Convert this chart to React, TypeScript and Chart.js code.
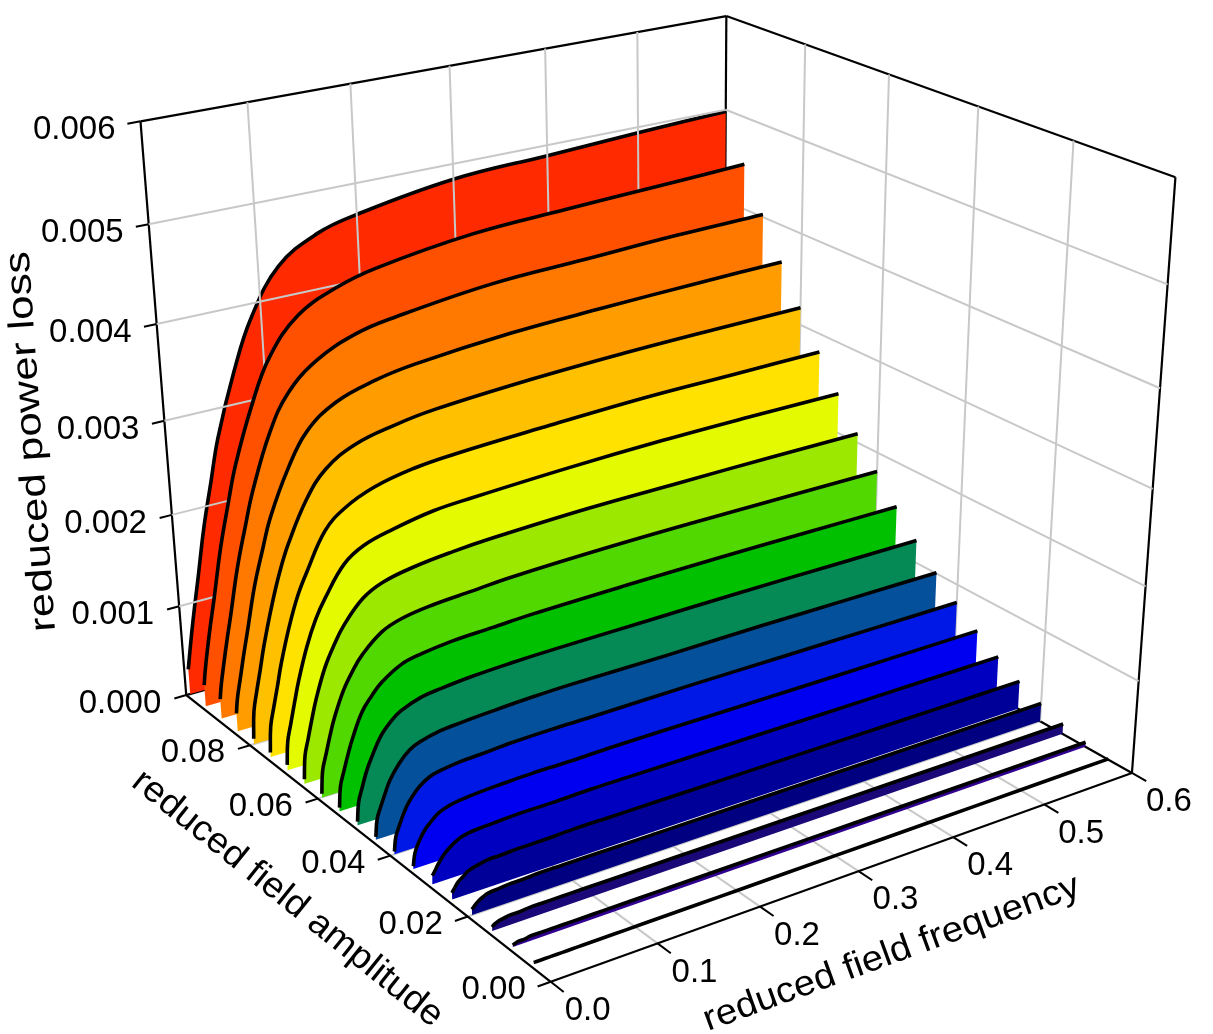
import React, { useEffect, useRef } from "react";
import { Chart, registerables } from "chart.js";

Chart.register(...registerables);

const frequencies = [0.004, 0.006, 0.01, 0.015, 0.02, 0.03, 0.04, 0.05, 0.07, 0.09, 0.12, 0.16, 0.2, 0.3, 0.4, 0.5, 0.6];
const amplitudes = [0.1, 0.095, 0.09, 0.085, 0.08, 0.075, 0.07, 0.065, 0.06, 0.055, 0.05, 0.045, 0.04, 0.035, 0.03, 0.025, 0.02, 0.015, 0.01, 0.005];

const loss100 = [0.00028, 0.00041, 0.00066, 0.00095, 0.00122, 0.00178, 0.00224, 0.00269, 0.00334, 0.00385, 0.00432, 0.00457, 0.00468, 0.00484, 0.00489, 0.00494, 0.00498];
const loss095 = [0.00024, 0.00039, 0.00063, 0.0009, 0.00115, 0.00168, 0.00211, 0.00251, 0.0031, 0.00355, 0.00391, 0.00411, 0.00422, 0.00436, 0.00441, 0.00445, 0.00449];
const loss090 = [0.00022, 0.00037, 0.00059, 0.00085, 0.00109, 0.00159, 0.00199, 0.00236, 0.00292, 0.00328, 0.00355, 0.00373, 0.00381, 0.00393, 0.00397, 0.00401, 0.00403];
const loss085 = [0.0002, 0.00036, 0.00056, 0.00081, 0.00104, 0.00151, 0.00187, 0.0022, 0.00266, 0.00299, 0.00322, 0.00335, 0.00342, 0.00351, 0.00355, 0.00358, 0.0036];
const loss080 = [0.00006, 0.00035, 0.00056, 0.00079, 0.00103, 0.00143, 0.00177, 0.00204, 0.00245, 0.00271, 0.00289, 0.00299, 0.00305, 0.00312, 0.00316, 0.00318, 0.00319];
const loss075 = [0.00005, 0.00033, 0.00052, 0.00074, 0.00097, 0.00134, 0.00164, 0.00186, 0.00224, 0.00242, 0.00256, 0.00265, 0.00269, 0.00274, 0.00278, 0.00279, 0.0028];
const loss070 = [0.00006, 0.00031, 0.00049, 0.00071, 0.00092, 0.00126, 0.00152, 0.00171, 0.00201, 0.00215, 0.00224, 0.00232, 0.00235, 0.0024, 0.00243, 0.00244, 0.00244];
const loss065 = [0.00005, 0.0003, 0.00047, 0.00068, 0.00087, 0.00117, 0.00138, 0.00155, 0.00178, 0.00189, 0.00196, 0.00201, 0.00204, 0.00208, 0.00209, 0.0021, 0.0021];
const loss060 = [0.00004, 0.00028, 0.00044, 0.00063, 0.0008, 0.00106, 0.00124, 0.00138, 0.00156, 0.00164, 0.00169, 0.00172, 0.00175, 0.00178, 0.00179, 0.00179, 0.00179];
const loss055 = [0.00004, 0.00026, 0.00041, 0.00058, 0.00073, 0.00097, 0.00111, 0.00122, 0.00135, 0.0014, 0.00144, 0.00146, 0.00148, 0.0015, 0.00151, 0.00151, 0.00151];
const loss050 = [0.00004, 0.00024, 0.00038, 0.00054, 0.00066, 0.00086, 0.00098, 0.00106, 0.00114, 0.00117, 0.0012, 0.00122, 0.00123, 0.00124, 0.00125, 0.00125, 0.00125];
const loss045 = [0.00003, 0.00021, 0.00033, 0.00046, 0.00058, 0.00073, 0.00083, 0.00088, 0.00093, 0.00095, 0.00097, 0.00099, 0.001, 0.001, 0.00101, 0.00101, 0.00101];
const loss040 = [0.00003, 0.00018, 0.00029, 0.00041, 0.0005, 0.00062, 0.00069, 0.00072, 0.00075, 0.00076, 0.00078, 0.00079, 0.00079, 0.0008, 0.0008, 0.0008, 0.0008];
const loss035 = [0.00003, 0.00016, 0.00026, 0.00035, 0.00041, 0.0005, 0.00054, 0.00056, 0.00058, 0.00059, 0.0006, 0.0006, 0.00061, 0.00061, 0.00061, 0.00061, 0.00061];
const loss030 = [0.00009, 0.00012, 0.00019, 0.00026, 0.00031, 0.00038, 0.00041, 0.00042, 0.00043, 0.00044, 0.00044, 0.00045, 0.00045, 0.00045, 0.00045, 0.00045, 0.00045];
const loss025 = [0.00007, 0.0001, 0.00016, 0.0002, 0.00024, 0.00027, 0.00029, 0.00029, 0.0003, 0.0003, 0.00031, 0.00031, 0.00031, 0.00031, 0.00031, 0.00031, 0.00031];
const loss020 = [0.00006, 0.00008, 0.00012, 0.00015, 0.00017, 0.00018, 0.00019, 0.00019, 0.0002, 0.0002, 0.0002, 0.0002, 0.0002, 0.0002, 0.0002, 0.0002, 0.0002];
const loss015 = [0.00004, 0.00006, 0.00008, 0.00009, 0.0001, 0.0001, 0.00011, 0.00011, 0.00011, 0.00011, 0.00011, 0.00011, 0.00011, 0.00011, 0.00011, 0.00011, 0.00011];
const loss010 = [0.00002, 0.00003, 0.00004, 0.00004, 0.00005, 0.00005, 0.00005, 0.00005, 0.00005, 0.00005, 0.00005, 0.00005, 0.00005, 0.00005, 0.00005, 0.00005, 0.00005];
const loss005 = [0.00001, 0.00001, 0.00001, 0.00001, 0.00001, 0.00001, 0.00001, 0.00001, 0.00001, 0.00001, 0.00001, 0.00001, 0.00001, 0.00001, 0.00001, 0.00001, 0.00001];

const lossSeries = [loss100, loss095, loss090, loss085, loss080, loss075, loss070, loss065, loss060, loss055, loss050, loss045, loss040, loss035, loss030, loss025, loss020, loss015, loss010, loss005];
const ribbonColors = ["#ff2a00", "#ff5000", "#ff7800", "#ff9c00", "#ffc000", "#ffe200", "#e4fa00", "#9ce800", "#50d800", "#00c000", "#058a55", "#05509a", "#0018e6", "#0000f0", "#0000c0", "#000098", "#000080", "#1a0878", "#300090", "#300090"];

const lossTicks = ["0.000", "0.001", "0.002", "0.003", "0.004", "0.005", "0.006"];
const amplitudeTicks = ["0.00", "0.02", "0.04", "0.06", "0.08"];
const frequencyTicks = ["0.0", "0.1", "0.2", "0.3", "0.4", "0.5", "0.6"];

const FREQ_MAX = 0.6;
const AMP_MAX = 0.1;
const LOSS_MAX = 0.006;

// Camera: box corners (frequency, amplitude, loss as fractions of each axis) and where they appear on the page.
const cameraMarks: number[][] = [
  [0, 0, 0, 551, 983],
  [1, 0, 0, 1130, 771],
  [0, 1, 0, 185, 693],
  [1, 1, 0, 725, 545],
  [0, 1, 1, 141, 123],
  [1, 1, 1, 725, 15],
  [1, 0, 1, 1177, 178],
  [0.5, 0, 0, 860, 872],
  [0, 0.6, 0, 317, 798],
  [0, 1, 0.5, 165, 421],
  [0.5, 1, 1, 450, 65],
  [1, 0.4, 1, 977, 106],
];

function solveCamera(): number[] {
  const n = 11;
  const A: number[][] = Array.from({ length: n }, () => new Array(n + 1).fill(0));
  const add = (row: number[], rhs: number) => {
    for (let i = 0; i < n; i++) {
      for (let j = 0; j < n; j++) A[i][j] += row[i] * row[j];
      A[i][n] += row[i] * rhs;
    }
  };
  for (const [X, Y, Z, px, py] of cameraMarks) {
    const x = px / 1000;
    const y = py / 1000;
    add([X, Y, Z, 1, 0, 0, 0, 0, -x * X, -x * Y, -x * Z], x);
    add([0, 0, 0, 0, X, Y, Z, 1, -y * X, -y * Y, -y * Z], y);
  }
  for (let c = 0; c < n; c++) {
    let best = c;
    for (let r = c + 1; r < n; r++) if (Math.abs(A[r][c]) > Math.abs(A[best][c])) best = r;
    [A[c], A[best]] = [A[best], A[c]];
    for (let r = 0; r < n; r++) {
      if (r === c) continue;
      const k = A[r][c] / A[c][c];
      for (let j = c; j <= n; j++) A[r][j] -= k * A[c][j];
    }
  }
  return A.map((row, i) => row[n] / row[i]);
}

const cam = solveCamera();

function project(freq: number, amp: number, loss: number) {
  const X = freq / FREQ_MAX;
  const Y = amp / AMP_MAX;
  const Z = loss / LOSS_MAX;
  const d = cam[8] * X + cam[9] * Y + cam[10] * Z + 1;
  return {
    x: (1000 * (cam[0] * X + cam[1] * Y + cam[2] * Z + cam[3])) / d,
    y: (1000 * (cam[4] * X + cam[5] * Y + cam[6] * Z + cam[7])) / d,
  };
}

type Pt = { x: number; y: number };

function seg(points: Pt[], color: string, width: number, extra: object = {}) {
  return { data: points, showLine: true, borderColor: color, borderWidth: width, backgroundColor: color, pointRadius: 0, fill: false, tension: 0, clip: false, ...extra };
}

const GRID = "#c8c8c8";
const BLACK = "#000000";

function ribbon(i: number) {
  const amp = amplitudes[i];
  const values = lossSeries[i];
  const curve = frequencies.map((f, j) => project(f, amp, values[j]));
  const polygon = [project(frequencies[0], amp, 0), ...curve, project(FREQ_MAX, amp, 0)];
  return [
    seg(polygon, ribbonColors[i], 0, { fill: "shape", backgroundColor: ribbonColors[i], borderWidth: 0 }),
    seg(curve, ribbonColors[i], 0, { fill: "shape", backgroundColor: ribbonColors[i], borderWidth: 0, tension: 0.4 }),
    seg(curve, BLACK, 3.6, { tension: 0.4, borderCapStyle: "butt" }),
  ];
}

function buildDatasets() {
  const paint: any[] = [];
  const fTicks = frequencyTicks.map(Number);
  const aTicks = [...amplitudeTicks.map(Number), AMP_MAX];
  const zTicks = lossTicks.map(Number);

  // floor grid
  fTicks.slice(1, -1).forEach((f) => paint.push(seg([project(f, 0, 0), project(f, AMP_MAX, 0)], GRID, 2)));
  aTicks.slice(1, -1).forEach((a) => paint.push(seg([project(0, a, 0), project(FREQ_MAX, a, 0)], GRID, 2)));

  // frame
  const corners = (f: number, a: number, z: number) => project(f, a, z);
  const frame: [number, number, number, number, number, number][] = [
    [0, 0, 0, FREQ_MAX, 0, 0],
    [0, 0, 0, 0, AMP_MAX, 0],
    [0, AMP_MAX, 0, FREQ_MAX, AMP_MAX, 0],
    [FREQ_MAX, 0, 0, FREQ_MAX, AMP_MAX, 0],
    [0, AMP_MAX, 0, 0, AMP_MAX, LOSS_MAX],
    [FREQ_MAX, AMP_MAX, 0, FREQ_MAX, AMP_MAX, LOSS_MAX],
    [FREQ_MAX, 0, 0, FREQ_MAX, 0, LOSS_MAX],
    [0, AMP_MAX, LOSS_MAX, FREQ_MAX, AMP_MAX, LOSS_MAX],
    [FREQ_MAX, 0, LOSS_MAX, FREQ_MAX, AMP_MAX, LOSS_MAX],
  ];
  frame.forEach((e) => paint.push(seg([corners(e[0], e[1], e[2]), corners(e[3], e[4], e[5])], BLACK, 2.2)));

  // ticks
  zTicks.forEach((z) => paint.push(seg([project(-0.012, AMP_MAX, z), project(0, AMP_MAX, z)], BLACK, 2)));
  amplitudeTicks.map(Number).forEach((a) => paint.push(seg([project(-0.012, a, 0), project(0, a, 0)], BLACK, 2)));
  fTicks.forEach((f) => paint.push(seg([project(f, -0.003, 0), project(f, 0, 0)], BLACK, 2)));

  // rear ribbon lies on the back wall, wall grid goes over it
  paint.push(...ribbon(0));

  // wall grid
  zTicks.slice(1, -1).forEach((z) => {
    paint.push(seg([project(0, AMP_MAX, z), project(FREQ_MAX, AMP_MAX, z)], GRID, 2));
    paint.push(seg([project(FREQ_MAX, AMP_MAX, z), project(FREQ_MAX, 0, z)], GRID, 2));
  });
  fTicks.slice(1, -1).forEach((f) => paint.push(seg([project(f, AMP_MAX, 0), project(f, AMP_MAX, LOSS_MAX)], GRID, 2)));
  aTicks.slice(1, -1).forEach((a) => paint.push(seg([project(FREQ_MAX, a, 0), project(FREQ_MAX, a, LOSS_MAX)], GRID, 2)));

  for (let i = 1; i < amplitudes.length; i++) paint.push(...ribbon(i));

  // Chart.js paints the first dataset last
  return paint.reverse();
}

const FONT = '"Liberation Sans", Arial, sans-serif';

function drawText(ctx: CanvasRenderingContext2D, text: string, x: number, y: number, size: number, align: CanvasTextAlign, baseline: CanvasTextBaseline, angle = 0, length = 0) {
  ctx.save();
  ctx.translate(x, y);
  ctx.rotate((angle * Math.PI) / 180);
  ctx.font = `${size}px ${FONT}`;
  ctx.fillStyle = "#000";
  ctx.textAlign = align;
  ctx.textBaseline = baseline;
  if (length > 0) ctx.scale(length / ctx.measureText(text).width, 1);
  ctx.fillText(text, 0, 0);
  ctx.restore();
}

const labelsPlugin = {
  id: "boxLabels",
  afterDatasetsDraw(chart: any) {
    const ctx: CanvasRenderingContext2D = chart.ctx;
    lossTicks.forEach((t) => {
      const p = project(0, AMP_MAX, Number(t));
      drawText(ctx, t, p.x - 25, p.y + 9, 33, "right", "middle");
    });
    amplitudeTicks.forEach((t) => {
      const p = project(0, Number(t), 0);
      drawText(ctx, t, p.x - 25, p.y + 8, 33, "right", "middle");
    });
    frequencyTicks.forEach((t) => {
      const p = project(Number(t), 0, 0);
      drawText(ctx, t, p.x + 14, p.y + 29, 33, "left", "middle");
    });
    drawText(ctx, "reduced power loss", 55, 631, 36, "left", "alphabetic", -94, 381);
    drawText(ctx, "reduced field amplitude", 130, 785, 36, "left", "alphabetic", 38.8, 388);
    drawText(ctx, "reduced field frequency", 708, 1031, 36, "left", "alphabetic", -20, 398);
  },
};

export default function App() {
  const ref = useRef<HTMLCanvasElement | null>(null);
  useEffect(() => {
    document.body.style.margin = "0";
    const chart = new Chart(ref.current as HTMLCanvasElement, {
      type: "scatter",
      data: { datasets: buildDatasets() },
      options: {
        animation: false,
        responsive: false,
        layout: { padding: 0 },
        plugins: { legend: { display: false }, title: { display: false }, tooltip: { enabled: false } },
        scales: {
          x: { type: "linear", min: 0, max: 1213, display: false },
          y: { type: "linear", min: 0, max: 1034, reverse: true, display: false },
        },
      },
      plugins: [labelsPlugin],
    } as any);
    return () => chart.destroy();
  }, []);
  return <canvas ref={ref} width={1213} height={1034} style={{ display: "block" }} />;
}
